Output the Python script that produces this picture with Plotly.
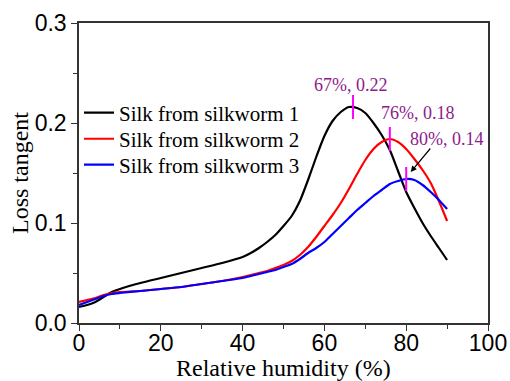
import plotly.graph_objects as go

rh = [0, 2, 4, 6, 8, 10, 15, 20, 25, 30, 35, 40, 42, 44, 46, 48, 50, 52, 54, 56, 58,
      60, 62, 64, 66, 68, 70, 72, 74, 76, 78, 80, 82, 84, 86, 88, 90]

silk1 = [0.016, 0.018, 0.021, 0.026, 0.031, 0.034, 0.040, 0.045, 0.050, 0.055, 0.060,
         0.066, 0.070, 0.075, 0.081, 0.088, 0.097, 0.107, 0.122, 0.143, 0.166,
         0.187, 0.202, 0.211, 0.216, 0.215, 0.210, 0.200, 0.188, 0.173, 0.152,
         0.131, 0.115, 0.100, 0.087, 0.075, 0.063]

silk2 = [0.021, 0.023, 0.025, 0.028, 0.030, 0.031, 0.032, 0.034, 0.036, 0.039, 0.042,
         0.046, 0.048, 0.050, 0.052, 0.055, 0.058, 0.062, 0.068, 0.076, 0.086,
         0.097, 0.108, 0.120, 0.134, 0.149, 0.163, 0.174, 0.181, 0.184, 0.181,
         0.174, 0.164, 0.153, 0.140, 0.122, 0.102]

silk3 = [0.018, 0.021, 0.024, 0.027, 0.029, 0.030, 0.032, 0.034, 0.036, 0.039, 0.042,
         0.045, 0.047, 0.049, 0.051, 0.053, 0.056, 0.059, 0.064, 0.070, 0.075,
         0.081, 0.089, 0.097, 0.105, 0.113, 0.120, 0.127, 0.133, 0.139, 0.142,
         0.144, 0.143, 0.138, 0.131, 0.123, 0.114]

names = ["Silk from silkworm 1", "Silk from silkworm 2", "Silk from silkworm 3"]
colors = ["#000000", "#ff0000", "#0000ff"]

peak_x = [67, 76, 80]
peak_y = [0.216, 0.184, 0.144]
peak_labels = ["67%, 0.22", "76%, 0.18", "80%, 0.14"]

legend_ids = ["legend", "legend2", "legend3"]
legend_y = [0.70, 0.613, 0.527]

fig = go.Figure()
for ys, nm, c, lg in zip([silk1, silk2, silk3], names, colors, legend_ids):
    fig.add_trace(go.Scatter(x=rh, y=ys, mode="lines", name=nm, legend=lg,
                             line=dict(color=c, width=2.2, shape="spline", smoothing=0.6)))

# peak markers
for px_, py_ in zip(peak_x, peak_y):
    fig.add_shape(type="line", xref="x", yref="y", x0=px_, x1=px_,
                  y0=py_ - 0.012, y1=py_ + 0.012,
                  line=dict(color="#ff00ff", width=2))

purple = "#8e1a8e"
lab_font = dict(family="Liberation Serif", size=18, color=purple)
fig.add_annotation(x=66.5, y=0.238, text=peak_labels[0], showarrow=False,
                   font=lab_font, xref="x", yref="y")
fig.add_annotation(x=83, y=0.210, text=peak_labels[1], showarrow=False,
                   font=lab_font, xref="x", yref="y")
fig.add_annotation(x=90, y=0.184, text=peak_labels[2], showarrow=False,
                   font=lab_font, xref="x", yref="y")
fig.add_annotation(x=81.1, y=0.151, ax=86.2, ay=0.176, axref="x", ayref="y",
                   xref="x", yref="y", text="", showarrow=True,
                   arrowhead=2, arrowsize=1, arrowwidth=1.2, arrowcolor="#000000")

# axis titles as annotations (pixel-placed relative to plot area)
title_font = dict(family="Liberation Serif", size=24, color="#000000")
fig.add_annotation(x=0.5, y=0, xref="paper", yref="paper", yshift=-45,
                   text="Relative humidity (%)", showarrow=False,
                   font=title_font, yanchor="middle", xanchor="center")
fig.add_annotation(x=0, y=0.5, xref="paper", yref="paper", xshift=-59,
                   text="Loss tangent", showarrow=False, textangle=-90,
                   font=title_font, xanchor="center", yanchor="middle")

axis_common = dict(showline=True, linecolor="#333333", linewidth=1.5, mirror=True,
                   ticks="outside", ticklen=6, tickwidth=1.2, tickcolor="#333333",
                   showgrid=False, zeroline=False, automargin=False,
                   tickfont=dict(family="Liberation Sans", size=23, color="#000000"))

fig.update_xaxes(range=[0, 100], dtick=20, tick0=0, ticklabelstandoff=-7,
                 minor=dict(dtick=10, ticks="outside", ticklen=4, tickcolor="#333333"),
                 **axis_common)
fig.update_yaxes(range=[0, 0.3], dtick=0.1, tick0=0, tickformat=".1f",
                 minor=dict(dtick=0.05, ticks="outside", ticklen=4, tickcolor="#333333"),
                 **axis_common)

leg_common = dict(x=0.0, xanchor="left", yanchor="middle",
                  bgcolor="rgba(0,0,0,0)", borderwidth=0,
                  font=dict(family="Liberation Serif", size=21, color="#000000"),
                  itemwidth=30)

fig.update_layout(
    width=510, height=381,
    margin=dict(l=79, r=22, t=23, b=58, autoexpand=False),
    paper_bgcolor="white", plot_bgcolor="white",
    showlegend=True,
    legend=dict(y=legend_y[0], **leg_common),
    legend2=dict(y=legend_y[1], **leg_common),
    legend3=dict(y=legend_y[2], **leg_common),
)

fig.write_html("out.html", config={"displayModeBar": False},
               post_script="document.body.style.margin='0px';document.body.style.padding='0px';")
